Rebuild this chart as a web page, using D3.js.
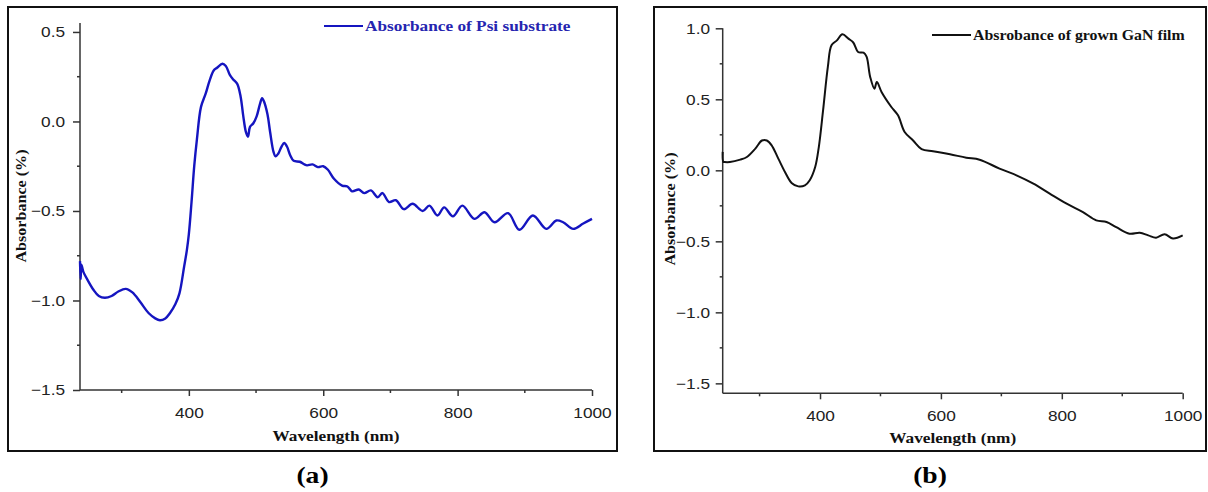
<!DOCTYPE html>
<html>
<head>
<meta charset="utf-8">
<script src="https://cdn.jsdelivr.net/npm/d3@7"></script>
<style>
  body { margin: 0; background: #fff; }
  svg { display: block; }
  .tick-label { font-family: "Liberation Sans", Arial, sans-serif; font-size: 15px; fill: #222; }
  .title { font-family: "Liberation Serif", "Times New Roman", serif; font-weight: bold; font-size: 14px; fill: #111; }
  .axis-line { stroke: #333; stroke-width: 1.5; fill: none; }
</style>
</head>
<body>
<div id="chart"></div>
<script>
// panel (a): absorbance of Psi substrate
const psiWave = [238, 239, 240, 243, 250, 258, 266, 275, 285, 295, 306, 316, 328, 340, 350, 357, 365, 372, 380, 386,
  393, 397, 400, 404, 408, 412, 418, 425, 431, 437, 442, 450, 455, 461, 466, 472, 477, 481, 485, 488,
  491, 496, 501, 506, 509, 512, 517, 521, 526, 529, 533, 538, 542, 546, 551, 556, 565, 572, 576, 584,
  592, 600, 607, 616, 628, 636, 643, 653, 661, 671, 681, 688, 698, 708, 720, 733, 748, 758, 770, 780,
  793, 807, 825, 840, 855, 875, 892, 912, 932, 947, 957, 972, 987, 1000];
const psiAbs = [-0.78, -0.88, -0.80, -0.84, -0.89, -0.94, -0.975, -0.985, -0.975, -0.95, -0.935, -0.955, -1.01, -1.07, -1.10, -1.11, -1.10, -1.07, -1.02, -0.96,
  -0.81, -0.72, -0.63, -0.45, -0.25, -0.10, 0.08, 0.155, 0.23, 0.285, 0.30, 0.322, 0.31, 0.26, 0.235, 0.21, 0.14, 0.03, -0.06, -0.085,
  -0.03, -0.01, 0.03, 0.10, 0.13, 0.11, 0.04, -0.06, -0.17, -0.195, -0.18, -0.14, -0.12, -0.14, -0.19, -0.22, -0.225, -0.24, -0.245, -0.24,
  -0.255, -0.25, -0.27, -0.32, -0.358, -0.363, -0.39, -0.38, -0.40, -0.385, -0.423, -0.40, -0.45, -0.44, -0.49, -0.46, -0.50, -0.47, -0.525, -0.48,
  -0.53, -0.47, -0.544, -0.507, -0.563, -0.512, -0.605, -0.525, -0.60, -0.553, -0.563, -0.60, -0.57, -0.544];

// panel (b): absorbance of grown GaN film
const ganWave = [239, 240, 242, 251, 268, 279, 293, 304, 312, 320, 331, 342, 353, 364, 375, 383, 392, 398, 405, 413,
  419, 428, 437, 447, 455, 463, 472, 477, 483, 490, 494, 502, 518, 529, 540, 554, 568, 587, 615, 642,
  664, 697, 725, 753, 780, 808, 835, 857, 874, 890, 912, 929, 943, 956, 970, 984, 1000];
const ganAbs = [0.13, 0.06, 0.058, 0.058, 0.075, 0.094, 0.153, 0.21, 0.21, 0.176, 0.082, -0.012, -0.089, -0.113, -0.106, -0.07, 0.023, 0.164, 0.42, 0.73,
  0.88, 0.915, 0.958, 0.927, 0.90, 0.833, 0.828, 0.80, 0.657, 0.575, 0.622, 0.55, 0.446, 0.387, 0.27, 0.21, 0.15, 0.134, 0.113, 0.089,
  0.075, 0.012, -0.035, -0.094, -0.164, -0.235, -0.294, -0.352, -0.364, -0.40, -0.446, -0.44, -0.458, -0.474, -0.45, -0.48, -0.458];

const xMajor = [400, 600, 800, 1000];
const xMinor = [300, 500, 700, 900];
const yMajorA = [0.5, 0.0, -0.5, -1.0, -1.5];
const yMinorA = [0.25, -0.25, -0.75, -1.25];
const yMajorB = [1.0, 0.5, 0.0, -0.5, -1.0, -1.5];
const yMinorB = [0.75, 0.25, -0.25, -0.75, -1.25];

const width = 1208, height = 492;
const svg = d3.select('#chart').append('svg')
  .attr('width', width)
  .attr('height', height);

const sx = 1.15; // the source figure is stretched horizontally

function stretchedText(g, x, y, str, cls, anchor) {
  return g.append('text')
    .attr('class', cls)
    .attr('text-anchor', anchor || 'start')
    .attr('transform', `translate(${x},${y}) scale(${sx},1)`)
    .text(str);
}

function drawPanel(cfg) {
  const g = svg.append('g');

  g.append('rect')
    .attr('x', cfg.frame[0]).attr('y', cfg.frame[1])
    .attr('width', cfg.frame[2]).attr('height', cfg.frame[3])
    .attr('fill', 'none').attr('stroke', '#111').attr('stroke-width', 2);

  const x = d3.scaleLinear().domain(cfg.xDomain).range(cfg.xRange);
  const y = d3.scaleLinear().domain(cfg.yDomain).range(cfg.yRange);

  const xAxis = d3.axisBottom(x).tickValues(xMajor).tickSize(6).tickPadding(7).tickFormat(d3.format('d'));
  const yAxis = d3.axisLeft(y).tickValues(cfg.yMajor).tickSize(7).tickPadding(cfg.yPad).tickFormat(d3.format('.1f'));

  const gx = g.append('g')
    .attr('transform', `translate(0,${cfg.yRange[0]})`)
    .call(xAxis);
  const gy = g.append('g')
    .attr('transform', `translate(${cfg.xRange[0]},0)`)
    .call(yAxis);

  [gx, gy].forEach(a => {
    a.select('.domain').attr('class', 'axis-line').attr('d', null);
    a.selectAll('.tick line').attr('stroke', '#333').attr('stroke-width', 1.5);
    a.selectAll('.tick text').attr('class', 'tick-label').attr('font-family', null).attr('font-size', null);
  });
  gx.selectAll('.tick text').attr('transform', `scale(${sx},1)`).attr('dy', '1em');
  gy.selectAll('.tick text').attr('transform', `scale(${sx},1)`);

  // axis lines
  g.append('line').attr('class', 'axis-line')
    .attr('x1', cfg.xRange[0]).attr('x2', cfg.xRange[1])
    .attr('y1', cfg.yRange[0]).attr('y2', cfg.yRange[0]);
  g.append('line').attr('class', 'axis-line')
    .attr('x1', cfg.xRange[0]).attr('x2', cfg.xRange[0])
    .attr('y1', cfg.yRange[0]).attr('y2', cfg.yRange[1]);

  // minor ticks
  g.append('g').selectAll('line').data(xMinor).enter().append('line')
    .attr('x1', d => x(d)).attr('x2', d => x(d))
    .attr('y1', cfg.yRange[0]).attr('y2', cfg.yRange[0] + 3)
    .attr('stroke', '#333').attr('stroke-width', 1.5);
  g.append('g').selectAll('line').data(cfg.yMinor).enter().append('line')
    .attr('x1', cfg.xRange[0] - 3).attr('x2', cfg.xRange[0])
    .attr('y1', d => y(d)).attr('y2', d => y(d))
    .attr('stroke', '#333').attr('stroke-width', 1.5);

  // curve
  const pts = cfg.wave.map((w, i) => [w, cfg.abs[i]]);
  const line = d3.line()
    .x(d => x(d[0]))
    .y(d => y(d[1]))
    .curve(d3.curveCatmullRom.alpha(0.5));
  g.append('path')
    .datum(pts)
    .attr('d', line)
    .attr('fill', 'none')
    .attr('stroke', cfg.color)
    .attr('stroke-width', cfg.lineWidth)
    .attr('stroke-linejoin', 'round');

  // legend
  g.append('line')
    .attr('x1', cfg.legend[0]).attr('x2', cfg.legend[0] + 39)
    .attr('y1', cfg.legend[1]).attr('y2', cfg.legend[1])
    .attr('stroke', cfg.color).attr('stroke-width', 2);
  stretchedText(g, cfg.legend[0] + 41, cfg.legend[1] + 5, cfg.label, 'title')
    .style('fill', cfg.textColor)
    .style('font-size', cfg.legendSize);

  // axis titles
  stretchedText(g, (cfg.xRange[0] + cfg.xRange[1]) / 2, cfg.xTitleY, 'Wavelength (nm)', 'title', 'middle')
    .style('font-size', '15px');
  g.append('text')
    .attr('class', 'title')
    .attr('text-anchor', 'middle')
    .attr('transform', `translate(${cfg.yTitleX},${cfg.yTitleY}) rotate(-90) scale(${sx},1)`)
    .text('Absorbance (%)');

  // panel letter
  stretchedText(g, cfg.frame[0] + cfg.frame[2] / 2, 483, cfg.letter, 'title', 'middle')
    .style('font-size', '24px').style('fill', '#000');
}

drawPanel({
  frame: [8, 7, 609, 444],
  xDomain: [238, 1000], xRange: [80, 592],
  yDomain: [-1.5, 0.55], yRange: [390, 23],
  yMajor: yMajorA, yMinor: yMinorA, yPad: 6,
  wave: psiWave, abs: psiAbs,
  color: '#1515c0', lineWidth: 2.4, textColor: '#2525b0',
  legend: [324, 26], label: 'Absorbance of Psi substrate', legendSize: '15px',
  xTitleY: 441, yTitleX: 26, yTitleY: 206, letter: '(a)'
});

drawPanel({
  frame: [654, 7, 552, 444],
  xDomain: [239, 1000], xRange: [722.7, 1182.7],
  yDomain: [-1.57, 1.0], yRange: [393.3, 28.3],
  yMajor: yMajorB, yMinor: yMinorB, yPad: 4,
  wave: ganWave, abs: ganAbs,
  color: '#111', lineWidth: 2, textColor: '#111',
  legend: [932, 35], label: 'Absrobance of grown GaN film', legendSize: '13.8px',
  xTitleY: 443, yTitleX: 675, yTitleY: 209, letter: '(b)'
});
</script>
</body>
</html>
